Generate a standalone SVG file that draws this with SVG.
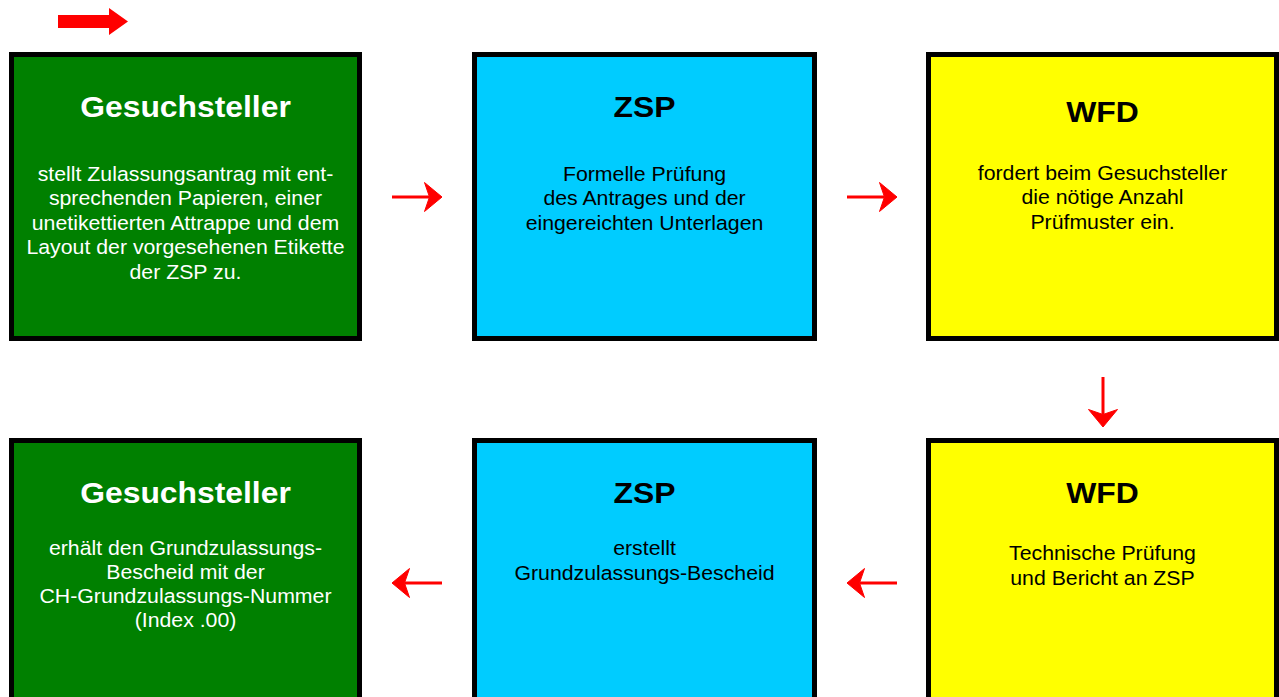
<svg xmlns="http://www.w3.org/2000/svg" width="1279" height="697" viewBox="0 0 1279 697">
<style>
.box{stroke:#000;stroke-width:5}
.g{fill:#008000}.c{fill:#00CCFF}.y{fill:#FFFF00}
text{font-family:"Liberation Sans",Arial,sans-serif;text-anchor:middle}
.t{font-size:29.5px;font-weight:bold}
.b{font-size:19.7px}
.w{fill:#fff}.k{fill:#000}
.conn{stroke:#FF0000;stroke-width:3;fill:none}
</style>
<defs>
<marker id="ah" markerUnits="userSpaceOnUse" viewBox="0 0 18 30" markerWidth="18" markerHeight="30" refX="5.5" refY="15" orient="auto">
<path d="M18,15 L0.5,0.5 L5.5,15 L0.5,29.5 Z" fill="#FF0000" stroke="#FF0000" stroke-width="1" stroke-linejoin="round"/>
</marker>
</defs>
<rect width="1279" height="697" fill="#fff"/>
<polygon points="58,15 109,15 109,8 128,21.5 109,35 109,28 58,28" fill="#FF0000"/>
<g id="n1">
<rect class="box g" x="11.5" y="54.5" width="348" height="284"/>
<g transform="translate(185.5,0) scale(1.08,1)" class="w">
<text class="t w" x="0" y="117">Gesuchsteller</text>
<text class="b w" x="0" y="181">stellt Zulassungsantrag mit ent-</text>
<text class="b w" x="0" y="205.5">sprechenden Papieren, einer</text>
<text class="b w" x="0" y="230">unetikettierten Attrappe und dem</text>
<text class="b w" x="0" y="254.5">Layout der vorgesehenen Etikette</text>
<text class="b w" x="0" y="279">der ZSP zu.</text>
</g>
</g>
<g id="n2">
<rect class="box c" x="474.5" y="54.5" width="340" height="284"/>
<g transform="translate(644.5,0) scale(1.08,1)">
<text class="t k" x="0" y="117">ZSP</text>
<text class="b k" x="0" y="181">Formelle Prüfung</text>
<text class="b k" x="0" y="205.5">des Antrages und der</text>
<text class="b k" x="0" y="230">eingereichten Unterlagen</text>
</g>
</g>
<g id="n3">
<rect class="box y" x="928.5" y="54.5" width="348" height="284"/>
<g transform="translate(1102.5,0) scale(1.08,1)">
<text class="t k" x="0" y="122">WFD</text>
<text class="b k" x="0" y="180">fordert beim Gesuchsteller</text>
<text class="b k" x="0" y="204.5">die nötige Anzahl</text>
<text class="b k" x="0" y="229">Prüfmuster ein.</text>
</g>
</g>
<g id="n4">
<rect class="box y" x="928.5" y="440.5" width="348" height="300"/>
<g transform="translate(1102.5,0) scale(1.08,1)">
<text class="t k" x="0" y="503">WFD</text>
<text class="b k" x="0" y="560">Technische Prüfung</text>
<text class="b k" x="0" y="585">und Bericht an ZSP</text>
</g>
</g>
<g id="n5">
<rect class="box c" x="474.5" y="440.5" width="340" height="300"/>
<g transform="translate(644.5,0) scale(1.08,1)">
<text class="t k" x="0" y="503">ZSP</text>
<text class="b k" x="0" y="555">erstellt</text>
<text class="b k" x="0" y="580">Grundzulassungs-Bescheid</text>
</g>
</g>
<g id="n6">
<rect class="box g" x="11.5" y="440.5" width="348" height="300"/>
<g transform="translate(185.5,0) scale(1.08,1)">
<text class="t w" x="0" y="503">Gesuchsteller</text>
<text class="b w" x="0" y="555">erhält den Grundzulassungs-</text>
<text class="b w" x="0" y="579">Bescheid mit der</text>
<text class="b w" x="0" y="603">CH-Grundzulassungs-Nummer</text>
<text class="b w" x="0" y="627">(Index .00)</text>
</g>
</g>
<g id="connectors">
<line class="conn" x1="392" y1="197" x2="429.5" y2="197" marker-end="url(#ah)"/>
<line class="conn" x1="847" y1="197" x2="884.5" y2="197" marker-end="url(#ah)"/>
<line class="conn" x1="1103" y1="377" x2="1103" y2="414.5" marker-end="url(#ah)"/>
<line class="conn" x1="897" y1="583" x2="859.5" y2="583" marker-end="url(#ah)"/>
<line class="conn" x1="442" y1="583" x2="404.5" y2="583" marker-end="url(#ah)"/>
</g>
</svg>
